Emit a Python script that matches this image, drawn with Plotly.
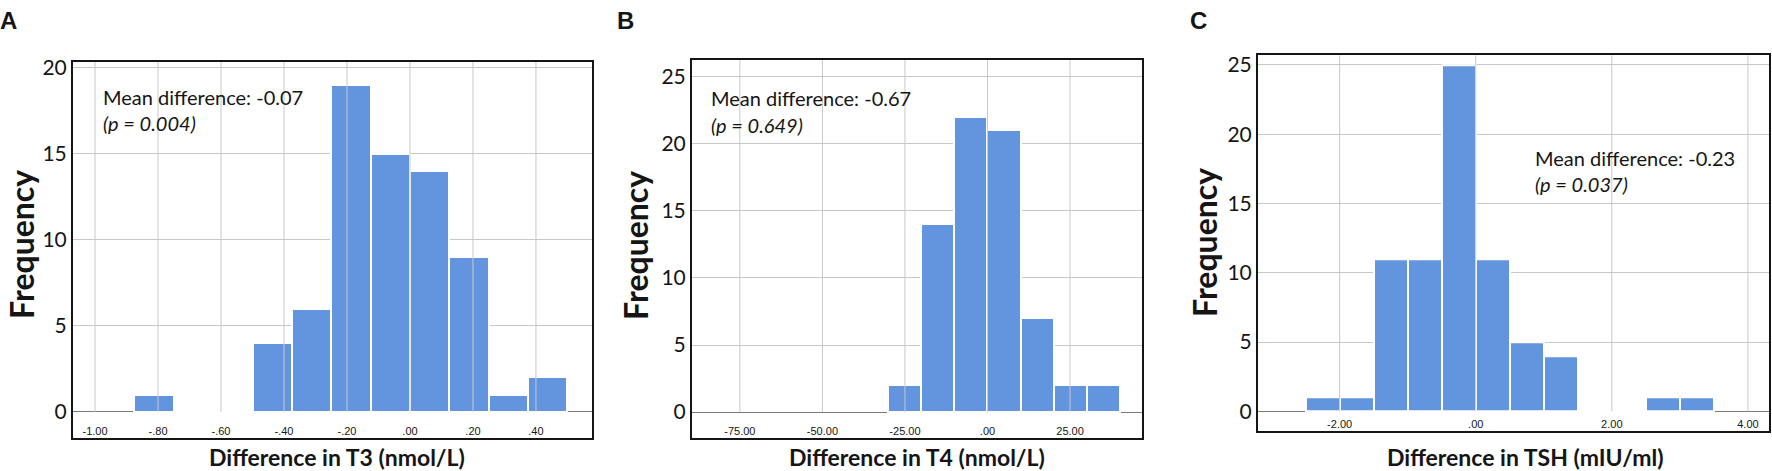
import plotly.graph_objects as go
from plotly.subplots import make_subplots

# histogram bins (left edge of each bin) and counts
t3_bin_start = [-0.875, -0.75, -0.625, -0.5, -0.375, -0.25, -0.125, 0.0, 0.125, 0.25, 0.375]
t3_counts = [1, 0, 0, 4, 6, 19, 15, 14, 9, 1, 2]
t3_bin_width = 0.125

t4_bin_start = [-30, -20, -10, 0, 10, 20, 30]
t4_counts = [2, 14, 22, 21, 7, 2, 2]
t4_bin_width = 10

tsh_bin_start = [-2.5, -2.0, -1.5, -1.0, -0.5, 0.0, 0.5, 1.0, 1.5, 2.0, 2.5, 3.0]
tsh_counts = [1, 1, 11, 11, 25, 11, 5, 4, 0, 0, 1, 1]
tsh_bin_width = 0.5

# axis ticks
t3_ticks = [-1.0, -0.8, -0.6, -0.4, -0.2, 0.0, 0.2, 0.4]
t3_tick_text = ["-1.00", "-.80", "-.60", "-.40", "-.20", ".00", ".20", ".40"]
t4_ticks = [-75, -50, -25, 0, 25]
t4_tick_text = ["-75.00", "-50.00", "-25.00", ".00", "25.00"]
tsh_ticks = [-2, 0, 2, 4]
tsh_tick_text = ["-2.00", ".00", "2.00", "4.00"]

panel_letters = ["A", "B", "C"]
x_titles = ["Difference in T3 (nmol/L)", "Difference in T4 (nmol/L)", "Difference in TSH (mIU/ml)"]
mean_text = ["Mean difference: -0.07", "Mean difference: -0.67", "Mean difference: -0.23"]
p_text = ["(p = 0.004)", "(p = 0.649)", "(p = 0.037)"]

BAR = "#6395DE"
GRID = "#C8C8C8"
INK = "#151515"
W, H = 1772, 471

fig = make_subplots(rows=1, cols=3)

# layout in pixels -> paper fractions
x_dom = [(73, 592), (692, 1142), (1258, 1769)]
y_dom = [(55, 437), (53, 437), (48, 430)]
x_rng = [[-1.07, 0.578], [-89.5, 46.8], [-3.2, 4.31]]
y_rng = [[-1.49, 20.34], [-1.9, 26.25], [-1.4, 25.7]]
y_max_tick = [20, 25, 25]
tickvals = [t3_ticks, t4_ticks, tsh_ticks]
ticktext = [t3_tick_text, t4_tick_text, tsh_tick_text]
# annotation anchor (data units): text left x, line centre y values
note_pos = [(-0.98, 18.3, 16.8), (-84.5, 23.4, 21.4), (0.84, 18.3, 16.4)]
freq_x = [22, 636, 1205]
freq_y = [241, 242, 239]
xtitle_x = [337, 917, 1525]
letter_x = [-2, 615, 1188]

panels = [
    (t3_bin_start, t3_counts, t3_bin_width),
    (t4_bin_start, t4_counts, t4_bin_width),
    (tsh_bin_start, tsh_counts, tsh_bin_width),
]
for i, (starts, counts, bw) in enumerate(panels):
    # vertical grid lines only from the zero line upward
    gx, gy = [], []
    for v in tickvals[i]:
        gx += [v, v, None]
        gy += [0, y_rng[i][1], None]
    fig.add_trace(go.Scatter(
        x=gx, y=gy, mode="lines", line=dict(color=GRID, width=1),
        showlegend=False, hoverinfo="skip",
    ), row=1, col=i + 1)
    fig.add_trace(go.Bar(
        x=starts, y=counts, width=bw, offset=0,
        marker=dict(color=BAR, line=dict(color="white", width=2)),
        showlegend=False, hoverinfo="x+y",
    ), row=1, col=i + 1)

for i in range(3):
    xa = "xaxis" if i == 0 else f"xaxis{i + 1}"
    ya = "yaxis" if i == 0 else f"yaxis{i + 1}"
    fig.layout[xa].update(
        domain=[x_dom[i][0] / W, x_dom[i][1] / W],
        range=x_rng[i],
        tickmode="array", tickvals=tickvals[i], ticktext=ticktext[i],
        ticks="", ticklabelposition="inside",
        tickfont=dict(family="Liberation Sans", size=11, color=INK),
        showgrid=False, zeroline=False,
        showline=True, mirror=True, linecolor=INK, linewidth=2,
        fixedrange=True,
    )
    fig.layout[ya].update(
        domain=[1 - y_dom[i][1] / H, 1 - y_dom[i][0] / H],
        range=y_rng[i],
        tickmode="array", tickvals=list(range(0, y_max_tick[i] + 1, 5)),
        ticks="", tickfont=dict(family="Lato", size=21, color=INK),
        showgrid=True, gridcolor=GRID, gridwidth=1,
        zeroline=True, zerolinecolor="#7A7A7A", zerolinewidth=1.2,
        showline=True, mirror=True, linecolor=INK, linewidth=2,
        fixedrange=True,
    )
    xr = "x" if i == 0 else f"x{i + 1}"
    yr = "y" if i == 0 else f"y{i + 1}"

    nx, ny1, ny2 = note_pos[i]
    fig.add_annotation(x=nx, y=ny1, xref=xr, yref=yr, text=mean_text[i],
                       showarrow=False, xanchor="left", yanchor="middle",
                       font=dict(family="Lato", size=20, color=INK))
    fig.add_annotation(x=nx, y=ny2, xref=xr, yref=yr, text=f"<i>{p_text[i]}</i>",
                       showarrow=False, xanchor="left", yanchor="middle",
                       font=dict(family="Lato", size=20, color=INK))

    fig.add_annotation(x=freq_x[i] / W, y=1 - freq_y[i] / H, xref="paper", yref="paper",
                       text="<b>Frequency</b>", textangle=-90, showarrow=False,
                       xanchor="center", yanchor="middle",
                       font=dict(family="Lato", size=32, color=INK))
    fig.add_annotation(x=xtitle_x[i] / W, y=1 - 457 / H, xref="paper", yref="paper",
                       text=f"<b>{x_titles[i]}</b>", showarrow=False,
                       xanchor="center", yanchor="middle",
                       font=dict(family="Lato", size=23, color=INK))
    fig.add_annotation(x=letter_x[i] / W, y=1 - 13 / H, xref="paper", yref="paper",
                       text=f"<b>{panel_letters[i]}</b>", showarrow=False,
                       xanchor="left", yanchor="middle",
                       font=dict(family="Liberation Sans", size=24, color=INK))

fig.update_layout(
    width=W, height=H,
    margin=dict(l=0, r=0, t=0, b=0),
    paper_bgcolor="white", plot_bgcolor="white",
    bargap=0,
)

# drop the page's default body margin so the figure fills the window exactly
fig.write_html("out.html", config={"displayModeBar": False},
               post_script="document.body.style.margin='0';")
